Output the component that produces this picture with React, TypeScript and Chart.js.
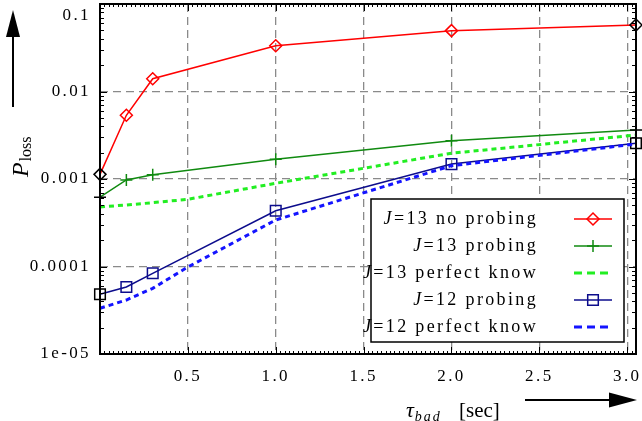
import React, { useEffect, useRef } from 'react';
import { Chart, registerables } from 'chart.js';

Chart.register(...registerables);

// ---- data ----
const xProbe = [0, 0.15, 0.3, 1.0, 2.0, 3.05];
const xPerfect = [0, 0.15, 0.3, 0.5, 1.0, 2.0, 3.05];

const j13NoProbing = [0.00113, 0.00535, 0.014, 0.0333, 0.0496, 0.0575];
const j13Probing = [0.00062, 0.000975, 0.00112, 0.00168, 0.00274, 0.00363];
const j13Perfect = [0.000479, 0.000505, 0.000536, 0.000586, 0.000893, 0.00197, 0.00318];
const j12Probing = [0.0000481, 0.0000583, 0.0000836, 0.000434, 0.00148, 0.00256];
const j12Perfect = [0.0000333, 0.0000414, 0.0000563, 0.0000987, 0.00034, 0.00142, 0.00251];

const legendNames = [
  'J=13 no probing',
  'J=13 probing',
  'J=13 perfect know',
  'J=12 probing',
  'J=12 perfect know',
];

const yTickValues = [1e-5, 1e-4, 1e-3, 1e-2, 1e-1];
const yTickLabels = ['1e-05', '0.0001', '0.001', '0.01', '0.1'];
const xTickValues = [0.5, 1.0, 1.5, 2.0, 2.5, 3.0];
const xTickLabels = ['0.5', '1.0', '1.5', '2.0', '2.5', '3.0'];

const X_MIN = 0;
const X_MAX = 3.05;
const Y_MIN = 1e-5;
const Y_MAX = 0.1;

// ---- styles ----
const RED = '#ff0000';
const GREEN = '#108a10';
const LIGHTGREEN = '#22ee22';
const NAVY = '#0c0c8c';
const BLUE = '#1414ff';
const GRID = '#8a8a8a';
const SERIF = '"Liberation Serif", "DejaVu Serif", serif';

const pts = (xs: number[], ys: number[]) => xs.map((x, i) => ({ x, y: ys[i] }));
const endBlack = (c: string, n: number) =>
  Array.from({ length: n }, (_, i) => (i === 0 || i === n - 1 ? '#000000' : c));

function drawMarker(ctx: CanvasRenderingContext2D, kind: string, x: number, y: number, color: string) {
  ctx.save();
  ctx.strokeStyle = color;
  ctx.lineWidth = 1.5;
  ctx.setLineDash([]);
  ctx.beginPath();
  if (kind === 'diamond') {
    const r = 6;
    ctx.moveTo(x - r, y);
    ctx.lineTo(x, y - r);
    ctx.lineTo(x + r, y);
    ctx.lineTo(x, y + r);
    ctx.closePath();
  } else if (kind === 'cross') {
    const r = 6;
    ctx.moveTo(x - r, y);
    ctx.lineTo(x + r, y);
    ctx.moveTo(x, y - r);
    ctx.lineTo(x, y + r);
  } else if (kind === 'square') {
    const h = 5.3;
    ctx.rect(x - h, y - h, 2 * h, 2 * h);
  }
  ctx.stroke();
  ctx.restore();
}

const legendStyles = [
  { color: RED, width: 1.5, dash: [] as number[], marker: 'diamond' },
  { color: GREEN, width: 1.5, dash: [] as number[], marker: 'cross' },
  { color: LIGHTGREEN, width: 3, dash: [8, 5], marker: '' },
  { color: NAVY, width: 1.5, dash: [] as number[], marker: 'square' },
  { color: BLUE, width: 3, dash: [8, 5], marker: '' },
];

const decorPlugin = {
  id: 'decor',
  beforeDraw(chart: any) {
    chart.ctx.letterSpacing = '2.4px';
  },
  beforeDatasetsDraw(chart: any) {
    chart.ctx.letterSpacing = '0px';
  },
  afterDatasetsDraw(chart: any) {
    const ctx: CanvasRenderingContext2D = chart.ctx;
    const a = chart.chartArea;
    const xs = chart.scales.x;
    const ys = chart.scales.y;
    ctx.save();
    (ctx as any).letterSpacing = '0px';
    ctx.setLineDash([]);

    // tick marks (inward, mirrored)
    ctx.strokeStyle = '#000';
    ctx.lineWidth = 1;
    ctx.beginPath();
    for (let d = -5; d < -1; d++) {
      for (let m = 1; m < 10; m++) {
        const v = m * Math.pow(10, d);
        const p = Math.round(ys.getPixelForValue(v)) + 0.5;
        const L = m === 1 ? 7 : 4;
        ctx.moveTo(a.left, p);
        ctx.lineTo(a.left + L, p);
        ctx.moveTo(a.right, p);
        ctx.lineTo(a.right - L, p);
      }
    }
    for (let k = 1; k * 0.025 <= X_MAX + 1e-9; k++) {
      const v = k * 0.025;
      const p = Math.round(xs.getPixelForValue(v)) + 0.5;
      const L = k % 20 === 0 ? 7 : 3;
      ctx.moveTo(p, a.bottom);
      ctx.lineTo(p, a.bottom - L);
      ctx.moveTo(p, a.top);
      ctx.lineTo(p, a.top + L);
    }
    ctx.stroke();

    // frame
    ctx.lineWidth = 2;
    ctx.strokeRect(a.left, a.top, a.right - a.left, a.bottom - a.top);

    // legend box
    const bw = 253;
    const bh = 143;
    const bx = a.right - 12 - bw;
    const by = a.bottom - 12 - bh;
    ctx.fillStyle = '#fff';
    ctx.fillRect(bx, by, bw, bh);
    ctx.lineWidth = 1.5;
    ctx.strokeStyle = '#000';
    ctx.strokeRect(bx, by, bw, bh);

    ctx.textBaseline = 'middle';
    ctx.textAlign = 'left';
    legendNames.forEach((name, i) => {
      const y = by + 20 + i * 27;
      const textRight = bx + 167;
      (ctx as any).letterSpacing = '2.35px';
      ctx.font = `18px ${SERIF}`;
      ctx.fillStyle = '#000';
      const rest = name.slice(1);
      const wRest = ctx.measureText(rest).width;
      const xRest = textRight - wRest;
      ctx.fillText(rest, xRest, y);
      ctx.font = `italic 18px ${SERIF}`;
      const wJ = ctx.measureText(name[0]).width;
      ctx.fillText(name[0], xRest - wJ, y);
      (ctx as any).letterSpacing = '0px';

      const st = legendStyles[i];
      const x0 = bx + 203;
      const x1 = bx + 241;
      ctx.save();
      ctx.strokeStyle = st.color;
      ctx.lineWidth = st.width;
      ctx.setLineDash(st.dash);
      ctx.beginPath();
      ctx.moveTo(x0, y);
      ctx.lineTo(x1, y);
      ctx.stroke();
      ctx.restore();
      if (st.marker) drawMarker(ctx, st.marker, (x0 + x1) / 2, y, st.color);
    });
    ctx.restore();
  },
  afterDraw(chart: any) {
    const ctx: CanvasRenderingContext2D = chart.ctx;
    ctx.save();
    (ctx as any).letterSpacing = '0px';
    ctx.fillStyle = '#000';
    ctx.strokeStyle = '#000';
    ctx.textAlign = 'left';
    ctx.textBaseline = 'alphabetic';

    // x title: tau_bad [sec]
    const tx = 406;
    const tb = 417;
    ctx.font = `italic 22px ${SERIF}`;
    ctx.fillText('τ', tx, tb);
    const wt = ctx.measureText('τ').width;
    (ctx as any).letterSpacing = '2px';
    ctx.font = `italic 14px ${SERIF}`;
    ctx.fillText('bad', tx + wt + 1, tb + 4);
    (ctx as any).letterSpacing = '0px';
    ctx.font = `21px ${SERIF}`;
    ctx.fillText('[sec]', 459, tb);

    // x arrow
    ctx.lineWidth = 2;
    ctx.beginPath();
    ctx.moveTo(525, 400);
    ctx.lineTo(612, 400);
    ctx.stroke();
    ctx.beginPath();
    ctx.moveTo(637, 400);
    ctx.lineTo(609, 392.5);
    ctx.lineTo(609, 407.5);
    ctx.closePath();
    ctx.fill();

    // y title: P_loss (rotated)
    ctx.save();
    ctx.translate(28, 177);
    ctx.rotate(-Math.PI / 2);
    ctx.font = `italic 24px ${SERIF}`;
    ctx.fillText('P', 0, 0);
    const wp = ctx.measureText('P').width;
    ctx.font = `16px ${SERIF}`;
    ctx.fillText('loss', wp + 1, 3);
    ctx.restore();

    // y arrow
    ctx.beginPath();
    ctx.moveTo(13, 107);
    ctx.lineTo(13, 34);
    ctx.stroke();
    ctx.beginPath();
    ctx.moveTo(13, 10);
    ctx.lineTo(6, 37);
    ctx.lineTo(20, 37);
    ctx.closePath();
    ctx.fill();
    ctx.restore();
  },
};

function findIdx(vals: number[], v: number) {
  return vals.findIndex((t) => Math.abs(t - v) <= Math.abs(t) * 1e-6);
}

export default function App() {
  const ref = useRef<HTMLCanvasElement | null>(null);

  useEffect(() => {
    if (!ref.current) return;
    const tickFont = { family: SERIF, size: 17, lineHeight: 1.3 };
    const chart = new Chart(ref.current, {
      type: 'line',
      data: {
        datasets: [
          {
            label: legendNames[0],
            data: pts(xProbe, j13NoProbing),
            borderColor: RED,
            borderWidth: 1.5,
            pointStyle: 'rectRot',
            pointRadius: 6,
            pointBorderWidth: 1.5,
            pointBorderColor: endBlack(RED, xProbe.length),
            pointBackgroundColor: 'rgba(0,0,0,0)',
            clip: false,
            order: 0,
          },
          {
            label: legendNames[1],
            data: pts(xProbe, j13Probing),
            borderColor: GREEN,
            borderWidth: 1.5,
            pointStyle: 'cross',
            pointRadius: 6,
            pointBorderWidth: 1.5,
            pointBorderColor: endBlack(GREEN, xProbe.length),
            pointBackgroundColor: 'rgba(0,0,0,0)',
            clip: false,
            order: 1,
          },
          {
            label: legendNames[2],
            data: pts(xPerfect, j13Perfect),
            borderColor: LIGHTGREEN,
            borderWidth: 3,
            borderDash: [5, 4],
            pointRadius: 0,
            clip: false,
            order: 2,
          },
          {
            label: legendNames[3],
            data: pts(xProbe, j12Probing),
            borderColor: NAVY,
            borderWidth: 1.5,
            pointStyle: 'rect',
            pointRadius: 7.5,
            pointBorderWidth: 1.5,
            pointBorderColor: endBlack(NAVY, xProbe.length),
            pointBackgroundColor: 'rgba(0,0,0,0)',
            clip: false,
            order: 4,
          },
          {
            label: legendNames[4],
            data: pts(xPerfect, j12Perfect),
            borderColor: BLUE,
            borderWidth: 3,
            borderDash: [5, 4],
            pointRadius: 0,
            clip: false,
            order: 3,
          },
        ],
      },
      options: {
        animation: false,
        responsive: false,
        devicePixelRatio: 1,
        layout: { autoPadding: false, padding: { top: 4, right: 6, bottom: 0, left: 0 } },
        plugins: { legend: { display: false }, tooltip: { enabled: false } },
        elements: { line: { tension: 0 } },
        scales: {
          x: {
            type: 'linear',
            min: X_MIN,
            max: X_MAX,
            afterBuildTicks: (s: any) => {
              s.ticks = xTickValues.map((v) => ({ value: v }));
            },
            afterFit: (s: any) => {
              s.height = 67;
              s.paddingLeft = 0;
              s.paddingRight = 0;
              s.paddingTop = 0;
              s.paddingBottom = 0;
            },
            ticks: {
              autoSkip: false,
              maxRotation: 0,
              padding: 11,
              color: '#000',
              font: tickFont,
              callback: (v: any) => {
                const i = findIdx(xTickValues, Number(v));
                return i >= 0 ? xTickLabels[i] : '';
              },
            },
            grid: { color: GRID, lineWidth: 1.3, drawTicks: false },
            border: { display: false, dash: [8, 5] },
          },
          y: {
            type: 'logarithmic',
            min: Y_MIN,
            max: Y_MAX,
            afterBuildTicks: (s: any) => {
              s.ticks = yTickValues.map((v) => ({ value: v }));
            },
            afterFit: (s: any) => {
              s.width = 100;
              s.paddingLeft = 0;
              s.paddingRight = 0;
              s.paddingTop = 0;
              s.paddingBottom = 0;
            },
            ticks: {
              autoSkip: false,
              padding: 9,
              color: '#000',
              font: tickFont,
              callback: (v: any) => {
                const i = findIdx(yTickValues, Number(v));
                if (i < 0) return '';
                return i === yTickValues.length - 1 ? ['', yTickLabels[i]] : yTickLabels[i];
              },
            },
            grid: {
              color: (c: any) => {
                const v = c.tick ? c.tick.value : 0;
                return v <= Y_MIN * 1.0001 || v >= Y_MAX * 0.9999 ? 'rgba(0,0,0,0)' : GRID;
              },
              lineWidth: 1.3,
              drawTicks: false,
            },
            border: { display: false, dash: [8, 5] },
          },
        },
      } as any,
      plugins: [decorPlugin],
    });
    return () => chart.destroy();
  }, []);

  return (
    <div style={{ position: 'fixed', left: 0, top: 0, width: 642, height: 421, background: '#fff' }}>
      <canvas ref={ref} width={642} height={421} style={{ display: 'block', width: 642, height: 421 }} />
    </div>
  );
}
